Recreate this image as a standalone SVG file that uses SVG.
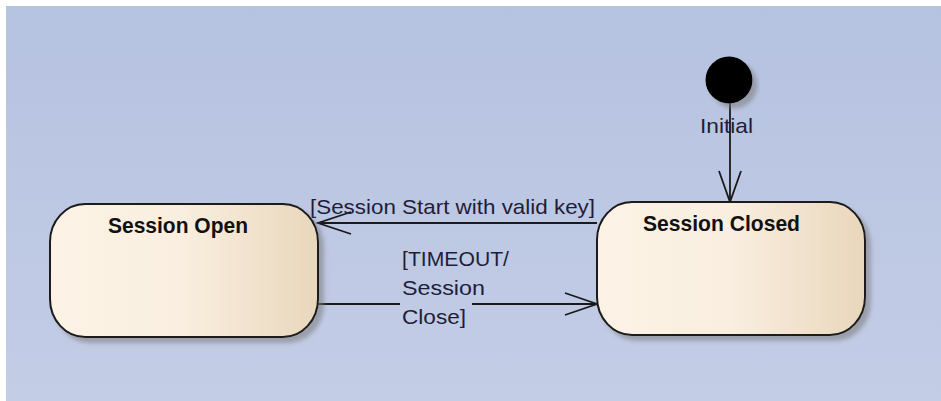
<svg xmlns="http://www.w3.org/2000/svg" width="941" height="401" viewBox="0 0 941 401">
  <style>
    .node { stroke: #1a1a1a; stroke-width: 2; fill: url(#nodeFill); filter: url(#shadow); }
    .title { font-family: "Liberation Sans", Arial, sans-serif; font-weight: bold; font-size: 22px; fill: #111111; }
    .lbl { font-family: "Liberation Sans", Arial, sans-serif; font-size: 21px; fill: #1e1e3a; }
    .conn { stroke: #1a1a1a; stroke-width: 1.8; fill: none; }
  </style>
  <defs>
    <linearGradient id="bg" gradientUnits="userSpaceOnUse" x1="0" y1="6" x2="0" y2="401">
      <stop offset="0" stop-color="#b5c2e0"/>
      <stop offset="1" stop-color="#c4cde6"/>
    </linearGradient>
    <linearGradient id="nodeFill" x1="0" y1="0" x2="1" y2="0">
      <stop offset="0" stop-color="#fcf3e6"/>
      <stop offset="0.5" stop-color="#f9eedf"/>
      <stop offset="1" stop-color="#e9d7bc"/>
    </linearGradient>
    <filter id="shadow" x="-10%" y="-10%" width="125%" height="130%">
      <feDropShadow dx="5" dy="5" stdDeviation="2" flood-color="#7a7a7a" flood-opacity="0.55"/>
    </filter>
  </defs>

  <rect x="0" y="0" width="941" height="401" fill="#ffffff"/>
  <rect x="6" y="6" width="935" height="395" fill="url(#bg)"/>

  <g id="connectors">
    <!-- Initial -> Session Closed -->
    <g id="edge-initial">
      <line class="conn" x1="730" y1="103" x2="730" y2="202"/>
      <polyline class="conn" points="719,171 730,202 741,171"/>
      <text class="lbl" x="700" y="133" textLength="53" lengthAdjust="spacingAndGlyphs">Initial</text>
    </g>
    <!-- Session Closed -> Session Open -->
    <g id="edge-start">
      <line class="conn" x1="597" y1="223" x2="318" y2="223"/>
      <polyline class="conn" points="351,212 318,223 351,234"/>
      <text class="lbl" x="310" y="214" textLength="285" lengthAdjust="spacingAndGlyphs">[Session Start with valid key]</text>
    </g>
    <!-- Session Open -> Session Closed -->
    <g id="edge-timeout">
      <line class="conn" x1="318" y1="304" x2="597" y2="304"/>
      <polyline class="conn" points="565,293 597,304 565,315"/>
      <rect x="400" y="246" width="72" height="84" fill="url(#bg)"/>
      <text class="lbl" x="402" y="266" textLength="107" lengthAdjust="spacingAndGlyphs">[TIMEOUT/</text>
      <text class="lbl" x="402" y="295" textLength="83" lengthAdjust="spacingAndGlyphs">Session</text>
      <text class="lbl" x="402" y="324" textLength="64" lengthAdjust="spacingAndGlyphs">Close]</text>
    </g>
  </g>

  <g id="initial">
    <circle cx="729" cy="80" r="23.5" fill="#000000" filter="url(#shadow)"/>
  </g>

  <g id="session-open">
    <rect class="node" x="50" y="204" width="268" height="133" rx="35" ry="38"/>
    <text class="title" x="108" y="233" textLength="140" lengthAdjust="spacingAndGlyphs">Session Open</text>
  </g>

  <g id="session-closed">
    <rect class="node" x="597" y="202" width="268" height="133" rx="35" ry="38"/>
    <text class="title" x="643" y="231" textLength="157" lengthAdjust="spacingAndGlyphs">Session Closed</text>
  </g>
</svg>
